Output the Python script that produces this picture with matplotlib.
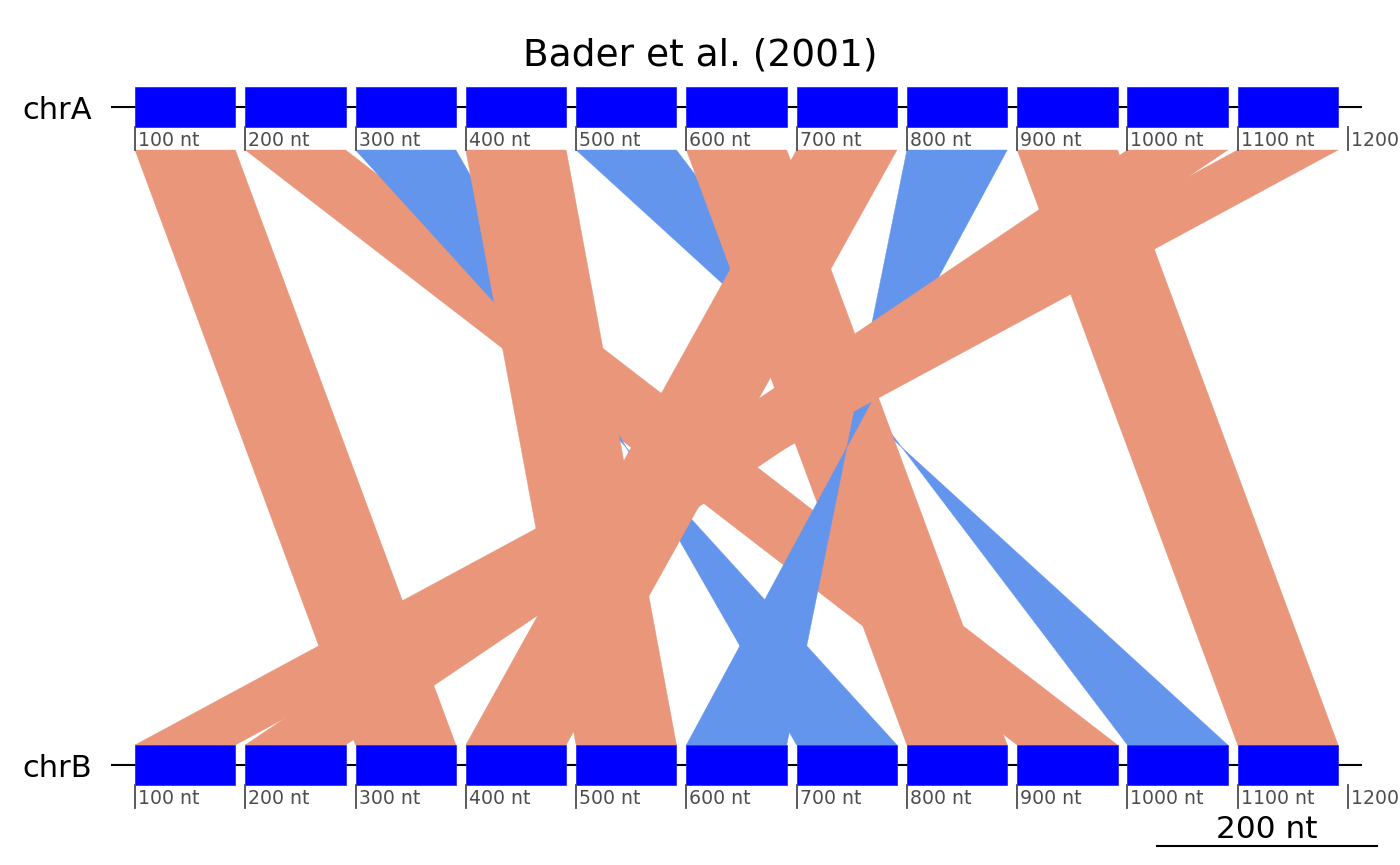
import matplotlib
matplotlib.use("Agg")
import matplotlib.pyplot as plt
from matplotlib.patches import Polygon, Rectangle

# ---------------- data ----------------
title = "Bader et al. (2001)"
seg_names = ["chrA", "chrB"]
gene_starts = [100, 200, 300, 400, 500, 600, 700, 800, 900, 1000, 1100]
gene_ends = [191, 291, 391, 491, 591, 691, 791, 891, 991, 1091, 1191]
tick_values = [100, 200, 300, 400, 500, 600, 700, 800, 900, 1000, 1100, 1200]
tick_labels = ["100 nt", "200 nt", "300 nt", "400 nt", "500 nt", "600 nt",
               "700 nt", "800 nt", "900 nt", "1000 nt", "1100 nt", "1200 nt"]

# comparisons chrA -> chrB (reverse hits have start2 > end2)
comp_start1 = [100, 200, 300, 400, 500, 600, 700, 800, 900, 1000, 1100]
comp_end1 = [191, 291, 391, 491, 591, 691, 791, 891, 991, 1091, 1191]
comp_start2 = [300, 900, 791, 500, 1091, 800, 400, 691, 1100, 200, 100]
comp_end2 = [391, 991, 700, 591, 1000, 891, 491, 600, 1191, 291, 191]

scale_length = 200
scale_label = "200 nt"

# ---------------- style ----------------
gene_color = "#0000FF"
direct_color = "#E9967A"
reverse_color = "#6495ED"
tick_color = "#4D4D4D"

W, H = 1400, 865
fig = plt.figure(figsize=(W / 100, H / 100), dpi=100)
ax = fig.add_axes([0, 0, 1, 1])
ax.set_axis_off()

px_per_nt = 1213 / 1100.0
x0_px = 135
ax.set_xlim(100 - x0_px / px_per_nt, 100 + (W - x0_px) / px_per_nt)
ax.set_ylim(H, 0)

# vertical layout (pixel rows)
track_y = {"chrA": 107, "chrB": 765}
gene_half = 20
tick_len = 23

rng = max(gene_ends) - min(gene_starts)
line_lo = min(gene_starts) - 0.02 * rng
line_hi = max(gene_ends) + 0.02 * rng

# comparisons (drawn first, in order)
top_y = track_y["chrA"] + gene_half + tick_len
bot_y = track_y["chrB"] - gene_half
for s1, e1, s2, e2 in zip(comp_start1, comp_end1, comp_start2, comp_end2):
    col = reverse_color if s2 > e2 else direct_color
    poly = Polygon([(s1, top_y), (e1, top_y), (e2, bot_y), (s2, bot_y)],
                   closed=True, facecolor=col, edgecolor=col, lw=0.3,
                   zorder=2)
    ax.add_patch(poly)

for name in seg_names:
    yc = track_y[name]
    ax.plot([line_lo, line_hi], [yc, yc], color="black", lw=1.5, zorder=3,
            solid_capstyle="butt")
    for s, e in zip(gene_starts, gene_ends):
        ax.add_patch(Rectangle((s, yc - gene_half), e - s, 2 * gene_half,
                               facecolor=gene_color, edgecolor="#1A1AFF",
                               lw=0.5, zorder=4))
    for tv, tl in zip(tick_values, tick_labels):
        ax.plot([tv, tv], [yc + gene_half, yc + gene_half + tick_len],
                color=tick_color, lw=1.3, zorder=4)
        ax.text(tv + 3 / px_per_nt, yc + gene_half + 18.8, tl,
                color=tick_color, fontsize=13.6, ha="left", va="baseline",
                zorder=5)
    ax.text(92 / px_per_nt + ax.get_xlim()[0], yc + 12, name, fontsize=22,
            ha="right", va="baseline", color="black")

ax.text(sum(ax.get_xlim()) / 2, 65.5, title, fontsize=27, ha="center",
        va="baseline", color="black")

# scale bar
scale_center = 100 + (1267 - x0_px) / px_per_nt
ax.plot([scale_center - scale_length / 2, scale_center + scale_length / 2],
        [845.5, 845.5], color="black", lw=1.5, solid_capstyle="projecting")
ax.text(scale_center, 838, scale_label, fontsize=22.5, ha="center",
        va="baseline", color="black")

fig.savefig("out.png", dpi=100)
